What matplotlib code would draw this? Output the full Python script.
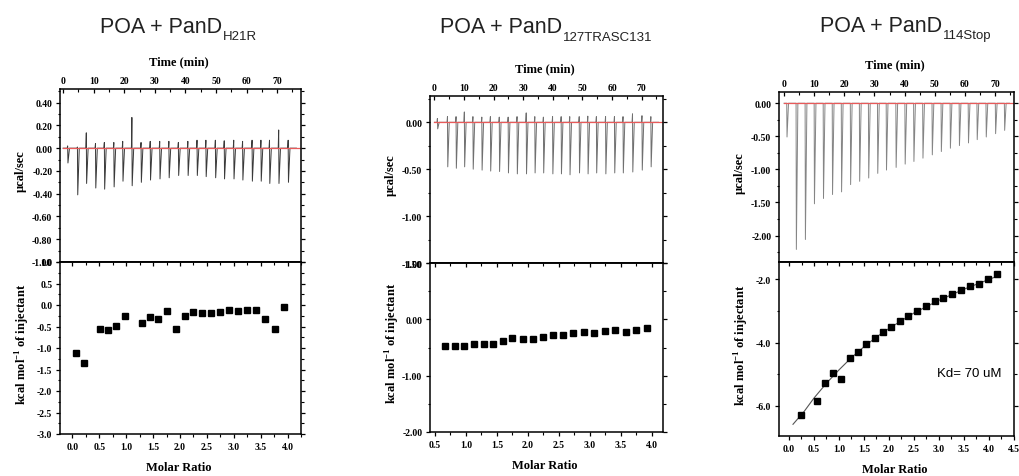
import matplotlib
matplotlib.use("Agg")
import matplotlib.pyplot as plt
from matplotlib.ticker import MultipleLocator, FormatStrFormatter

plt.rcParams["font.family"] = "Liberation Serif"
plt.rcParams["font.weight"] = "bold"
plt.rcParams["mathtext.fontset"] = "custom"
plt.rcParams["mathtext.rm"] = "Liberation Serif:bold"
plt.rcParams["mathtext.bf"] = "Liberation Serif:bold"

W, H = 1020, 477

# ---- PanD H21R ----
h21r_inj_time = [1.5, 4.7, 7.6, 10.6, 13.5, 16.6, 19.5, 22.5, 25.5, 28.5, 31.6, 34.6, 37.7,
                 40.8, 43.8, 46.7, 49.8, 52.7, 55.8, 58.7, 61.8, 64.7, 67.5, 70.5, 73.6]
h21r_inj_low = [-0.13, -0.41, -0.31, -0.35, -0.36, -0.34, -0.29, -0.33, -0.30, -0.28, -0.27, -0.26,
                -0.24, -0.24, -0.24, -0.25, -0.26, -0.27, -0.27, -0.28, -0.29, -0.29, -0.31, -0.31, -0.30]
h21r_inj_high = [0.02, 0.01, 0.135, 0.04, 0.05, 0.05, 0.06, 0.27, 0.05, 0.06, 0.06, 0.06, 0.05,
                 0.06, 0.07, 0.07, 0.07, 0.065, 0.07, 0.06, 0.07, 0.07, 0.07, 0.16, 0.07]
h21r_ratio = [0.07, 0.22, 0.51, 0.67, 0.82, 0.98, 1.29, 1.45, 1.60, 1.76, 1.92, 2.09, 2.25,
              2.41, 2.58, 2.74, 2.91, 3.07, 3.24, 3.41, 3.59, 3.76, 3.93]
h21r_heat = [-1.11, -1.34, -0.55, -0.58, -0.48, -0.25, -0.42, -0.27, -0.32, -0.15, -0.55, -0.25,
             -0.17, -0.18, -0.18, -0.16, -0.11, -0.15, -0.11, -0.12, -0.32, -0.56, -0.05]

# ---- PanD 127TRASC131 ----
trasc_inj_time = [1.0, 4.4, 7.3, 10.1, 13.0, 16.0, 18.9, 21.9, 24.9, 27.9, 31.0, 33.9, 36.8,
                  39.9, 42.8, 45.7, 48.9, 51.8, 54.7, 57.8, 60.8, 63.7, 66.9, 70.1, 73.1]
trasc_inj_low = [-0.07, -0.475, -0.49, -0.475, -0.50, -0.51, -0.52, -0.525, -0.54, -0.55, -0.55, -0.54,
                 -0.54, -0.55, -0.55, -0.56, -0.54, -0.55, -0.54, -0.55, -0.54, -0.54, -0.53, -0.51, -0.475]
trasc_inj_high = [0.04, 0.06, 0.06, 0.11, 0.06, 0.055, 0.06, 0.055, 0.055, 0.06, 0.10, 0.06, 0.055,
                  0.06, 0.06, 0.06, 0.06, 0.065, 0.06, 0.06, 0.06, 0.06, 0.09, 0.07, 0.06]
trasc_ratio = [0.67, 0.82, 0.97, 1.13, 1.29, 1.44, 1.60, 1.75, 1.92, 2.08, 2.24, 2.40, 2.56,
               2.73, 2.90, 3.07, 3.24, 3.41, 3.58, 3.75, 3.92]
trasc_heat = [-0.47, -0.47, -0.48, -0.43, -0.43, -0.43, -0.38, -0.34, -0.35, -0.35, -0.31, -0.28,
              -0.27, -0.24, -0.22, -0.24, -0.20, -0.19, -0.22, -0.19, -0.16]

# ---- PanD 114Stop ----
stop_inj_time = [0.9, 4.0, 7.0, 10.0, 13.0, 16.0, 19.0, 22.0, 25.0, 28.0, 31.0, 33.9, 37.1,
                 40.1, 43.0, 46.0, 49.1, 52.1, 55.1, 58.1, 61.1, 64.0, 67.0, 70.1, 73.1]
stop_inj_low = [-0.51, -2.21, -2.06, -1.52, -1.44, -1.38, -1.34, -1.23, -1.18, -1.13, -1.06, -1.01,
                -0.97, -0.92, -0.88, -0.83, -0.78, -0.73, -0.68, -0.64, -0.60, -0.55, -0.51, -0.46, -0.41]
stop_ratio = [0.25, 0.56, 0.73, 0.89, 1.05, 1.22, 1.38, 1.55, 1.72, 1.88, 2.05, 2.22, 2.39,
              2.56, 2.74, 2.92, 3.09, 3.27, 3.45, 3.63, 3.81, 3.99, 4.17]
stop_heat = [-6.28, -5.84, -5.28, -4.97, -5.14, -4.47, -4.31, -4.05, -3.85, -3.66, -3.51, -3.31,
             -3.17, -3.01, -2.85, -2.68, -2.60, -2.45, -2.34, -2.22, -2.15, -2.00, -1.84]
stop_fit_ratio = [0.08, 0.3, 0.5, 0.75, 1.0, 1.25, 1.5, 1.75, 2.0, 2.5, 3.0, 3.5, 4.0, 4.2]
stop_fit_heat = [-6.58, -6.18, -5.75, -5.28, -4.86, -4.47, -4.13, -3.82, -3.55, -3.06, -2.66,
                 -2.31, -2.00, -1.88]


def px_axes(fig, left, top, right, bottom):
    return fig.add_axes([left / W, 1 - bottom / H, (right - left) / W, (bottom - top) / H])


def trace(times, lows, highs, t_end):
    # one spike per injection: small up kick, sharp drop, recovery to baseline
    tt, yy = [0.0], [0.0]
    for i, t in enumerate(times):
        hi = highs[i] if highs else 0.0
        tt += [t - 0.15, t, t + 0.1, t + 0.6]
        yy += [0.0, hi, lows[i], 0.0]
    tt.append(t_end)
    yy.append(0.0)
    return tt, yy


def style(ax):
    for s in ax.spines.values():
        s.set_linewidth(1.1)
    ax.tick_params(which="major", length=3, width=0.9, labelsize=7, pad=2.5)
    ax.tick_params(which="minor", length=1.8, width=0.8)


fig = plt.figure(figsize=(W / 100, H / 100), dpi=100)

panels = [
    dict(box=(60, 90, 301, 263, 435), tx=(-1.0, 77.8), ty=(-1.0, 0.52), tmaj=0.2, tfmt="%.2f",
         bx=(-0.23, 4.25), by=(-3.0, 1.0), bmaj=0.5, bmin=0.25, bfmt="%.1f",
         t=h21r_inj_time, lo=h21r_inj_low, hi=h21r_inj_high, col="#3a3a3a",
         r=h21r_ratio, q=h21r_heat),
    dict(box=(430, 97, 663, 264, 433), tx=(-1.5, 77.2), ty=(-1.5, 0.28), tmaj=0.5, tfmt="%.2f",
         bx=(0.42, 4.18), by=(-2.0, 1.0), bmaj=1.0, bmin=0.5, bfmt="%.2f",
         t=trasc_inj_time, lo=trasc_inj_low, hi=trasc_inj_high, col="#707070",
         r=trasc_ratio, q=trasc_heat),
    dict(box=(779, 93, 1014, 263, 437), tx=(-1.66, 76.3), ty=(-2.4, 0.17), tmaj=0.5, tfmt="%.2f",
         bx=(-0.2, 4.5), by=(-6.95, -1.45), bmaj=2.0, bmin=1.0, bfmt="%.1f",
         t=stop_inj_time, lo=stop_inj_low, hi=None, col="#858585",
         r=stop_ratio, q=stop_heat),
]

for p in panels:
    left, top, right, mid, bottom = p["box"]
    ax1 = px_axes(fig, left, top, right, mid)
    ax2 = px_axes(fig, left, mid, right, bottom)

    # raw thermogram
    tt, yy = trace(p["t"], p["lo"], p["hi"], p["tx"][1] - 1.5)
    ax1.plot(tt, yy, color=p["col"], lw=0.7)
    ax1.plot([0.0, p["tx"][1]], [0.0, 0.0], color="#e85a5a", lw=0.9)
    ax1.set_xlim(*p["tx"])
    ax1.set_ylim(*p["ty"])
    ax1.xaxis.tick_top()
    ax1.xaxis.set_major_locator(MultipleLocator(10))
    ax1.xaxis.set_minor_locator(MultipleLocator(5))
    ax1.xaxis.set_major_formatter(FormatStrFormatter("%d"))
    ax1.yaxis.set_major_locator(MultipleLocator(p["tmaj"]))
    ax1.yaxis.set_minor_locator(MultipleLocator(p["tmaj"] / 2))
    ax1.yaxis.set_major_formatter(FormatStrFormatter(p["tfmt"]))
    ax1.tick_params(axis="x", which="both", direction="in", top=True, bottom=False)
    ax1.tick_params(axis="y", which="both", direction="out", left=True, right=True)
    style(ax1)
    ax1.tick_params(axis="x", pad=3)

    # integrated heats
    ax2.plot(p["r"], p["q"], "s", color="black", ms=4.2)
    if p["hi"] is None:
        ax2.plot(stop_fit_ratio, stop_fit_heat, color="#555555", lw=0.8, zorder=1)
    ax2.set_xlim(*p["bx"])
    ax2.set_ylim(*p["by"])
    ax2.xaxis.set_major_locator(MultipleLocator(0.5))
    ax2.xaxis.set_minor_locator(MultipleLocator(0.25))
    ax2.xaxis.set_major_formatter(FormatStrFormatter("%.1f"))
    ax2.yaxis.set_major_locator(MultipleLocator(p["bmaj"]))
    ax2.yaxis.set_minor_locator(MultipleLocator(p["bmin"]))
    ax2.yaxis.set_major_formatter(FormatStrFormatter(p["bfmt"]))
    ax2.tick_params(axis="both", which="both", direction="out", right=True)
    style(ax2)
    sec = ax2.secondary_xaxis("top")
    sec.xaxis.set_major_locator(MultipleLocator(0.5))
    sec.xaxis.set_minor_locator(MultipleLocator(0.25))
    sec.tick_params(which="both", direction="in", labeltop=False)
    sec.tick_params(which="major", length=3, width=0.9)
    sec.tick_params(which="minor", length=1.8, width=0.8)
    sec.spines["top"].set_linewidth(1.1)

    cx = (left + right) / 2
    fig.text((cx - 2) / W, 1 - (top - 28) / H, "Time (min)", ha="center", va="center", fontsize=9)
    fig.text((cx - 2) / W, 1 - (bottom + 33) / H, "Molar Ratio", ha="center", va="center", fontsize=9)
    fig.text((left - 39) / W, 1 - ((top + mid) / 2 - 5) / H, "µcal/sec", rotation=90,
             ha="center", va="center", fontsize=9)
    fig.text((left - 37) / W, 1 - ((mid + bottom) / 2 - 5) / H, r"kcal mol$^{-1}$ of injectant",
             rotation=90, ha="center", va="center", fontsize=9)

ax2.text(0.81, 0.36, "Kd= 70 uM", transform=ax2.transAxes, ha="center", va="center",
         fontsize=9.5, family="Liberation Sans", weight="normal")

titles = [(100, 33, "H21R"), (440, 33.5, "127TRASC131"), (820, 32, "114Stop")]
for x, y, sub in titles:
    main = fig.text(x / W, 1 - y / H, "POA + PanD", ha="left", va="baseline",
                    fontsize=15.5, family="Liberation Sans", weight="normal", color="#222222")
    plt.annotate(sub, xy=(1, 0), xycoords=main, xytext=(0.5, -1.5), textcoords="offset points",
                 ha="left", va="baseline", fontsize=9.5, family="Liberation Sans",
                 weight="normal", color="#222222", annotation_clip=False)

fig.savefig("out.png", dpi=100)
